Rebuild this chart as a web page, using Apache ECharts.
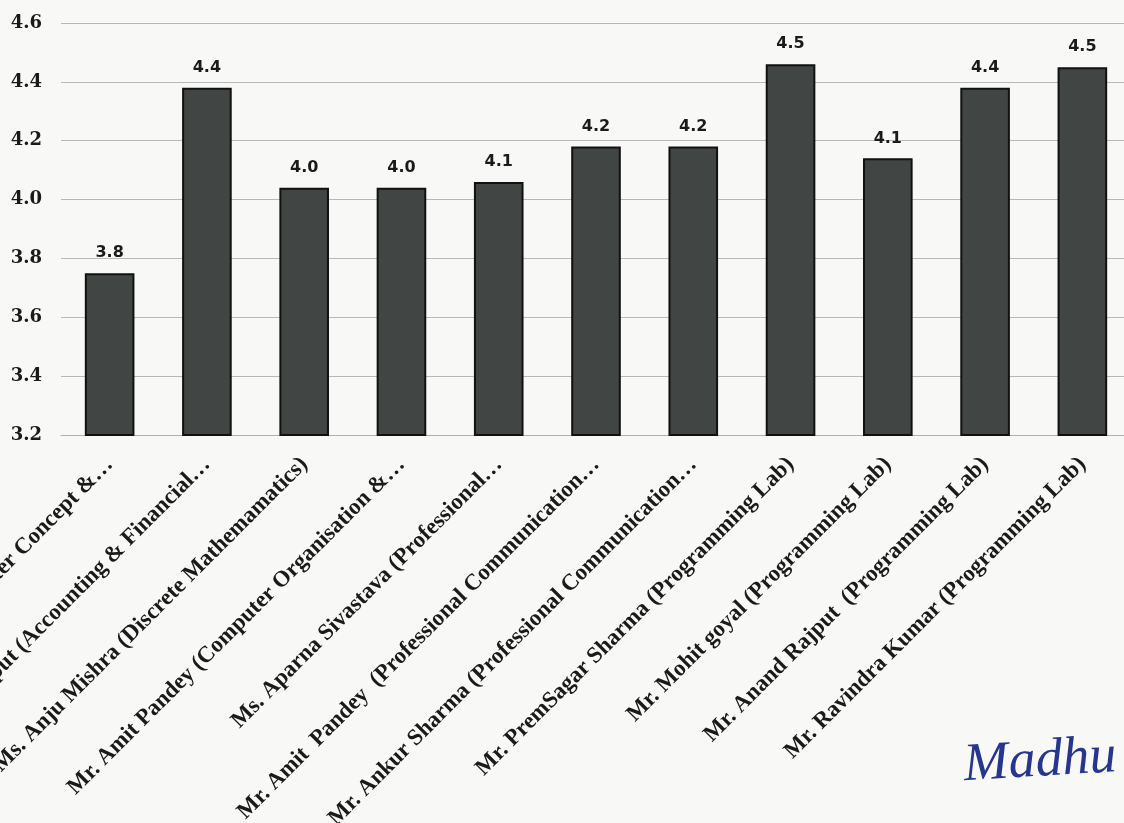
<!DOCTYPE html>
<html>
<head>
<meta charset="utf-8">
<script src="https://cdn.jsdelivr.net/npm/echarts@6/dist/echarts.min.js"></script>
<style>
html,body{margin:0;padding:0;background:#f8f8f6;}
#chart{width:1124px;height:823px;}
</style>
</head>
<body>
<div id="chart"></div>
<script>
const categories = [
  "Computer Concept &…",
  "Mr. Anand Rajput (Accounting & Financial…",
  "Ms. Anju Mishra (Discrete Mathemamatics)",
  "Mr. Amit Pandey (Computer Organisation &…",
  "Ms. Aparna Sivastava (Professional…",
  "Mr. Amit  Pandey  (Professional Communication…",
  "Mr. Ankur Sharma (Professional Communication…",
  "Mr. PremSagar Sharma (Programming Lab)",
  "Mr. Mohit goyal (Programming Lab)",
  "Mr. Anand Rajput  (Programming Lab)",
  "Mr. Ravindra Kumar (Programming Lab)"
];
const scores = [3.75, 4.38, 4.04, 4.04, 4.06, 4.18, 4.18, 4.46, 4.14, 4.38, 4.45];
const yMin = 3.2, yMax = 4.6, yStep = 0.2;
const signature = "Madhu";

const chart = echarts.init(document.getElementById('chart'), null, {renderer: 'canvas'});
chart.setOption({
  backgroundColor: '#f8f8f6',
  animation: false,
  grid: {left: 61, top: 23, width: 1070, height: 412, containLabel: false, outerBoundsMode: 'none'},
  xAxis: {
    type: 'category',
    data: categories,
    axisLine: {show: true, lineStyle: {color: '#b0b0b0', width: 1}},
    axisTick: {show: false},
    axisLabel: {
      interval: 0,
      rotate: 45,
      margin: 26,
      hideOverlap: false,
      fontFamily: 'Liberation Serif',
      fontWeight: 'bold',
      fontSize: 23,
      color: '#1a1a1a'
    }
  },
  yAxis: {
    type: 'value',
    min: yMin, max: yMax, interval: yStep,
    axisLine: {show: false},
    axisTick: {show: false},
    splitLine: {lineStyle: {color: '#b8b8b8', width: 1}},
    axisLabel: {
      formatter: v => v.toFixed(1),
      margin: 19,
      fontFamily: 'DejaVu Serif',
      fontWeight: 'bold',
      fontSize: 18,
      color: '#1a1a1a'
    }
  },
  graphic: [{
    type: 'text',
    right: 6,
    bottom: 30,
    rotation: 0.06,
    style: {
      text: signature,
      fontFamily: 'Liberation Serif',
      fontStyle: 'italic',
      fontSize: 54,
      fill: '#26368f'
    }
  }],
  series: [{
    type: 'bar',
    data: scores,
    barWidth: '51%',
    itemStyle: {color: '#414543', borderColor: '#111', borderWidth: 2},
    label: {
      show: true,
      position: 'top',
      distance: 12,
      formatter: p => p.value.toFixed(1),
      fontFamily: 'DejaVu Sans',
      fontWeight: 'bold',
      fontSize: 16,
      color: '#1a1a1a'
    }
  }]
});
</script>
</body>
</html>
